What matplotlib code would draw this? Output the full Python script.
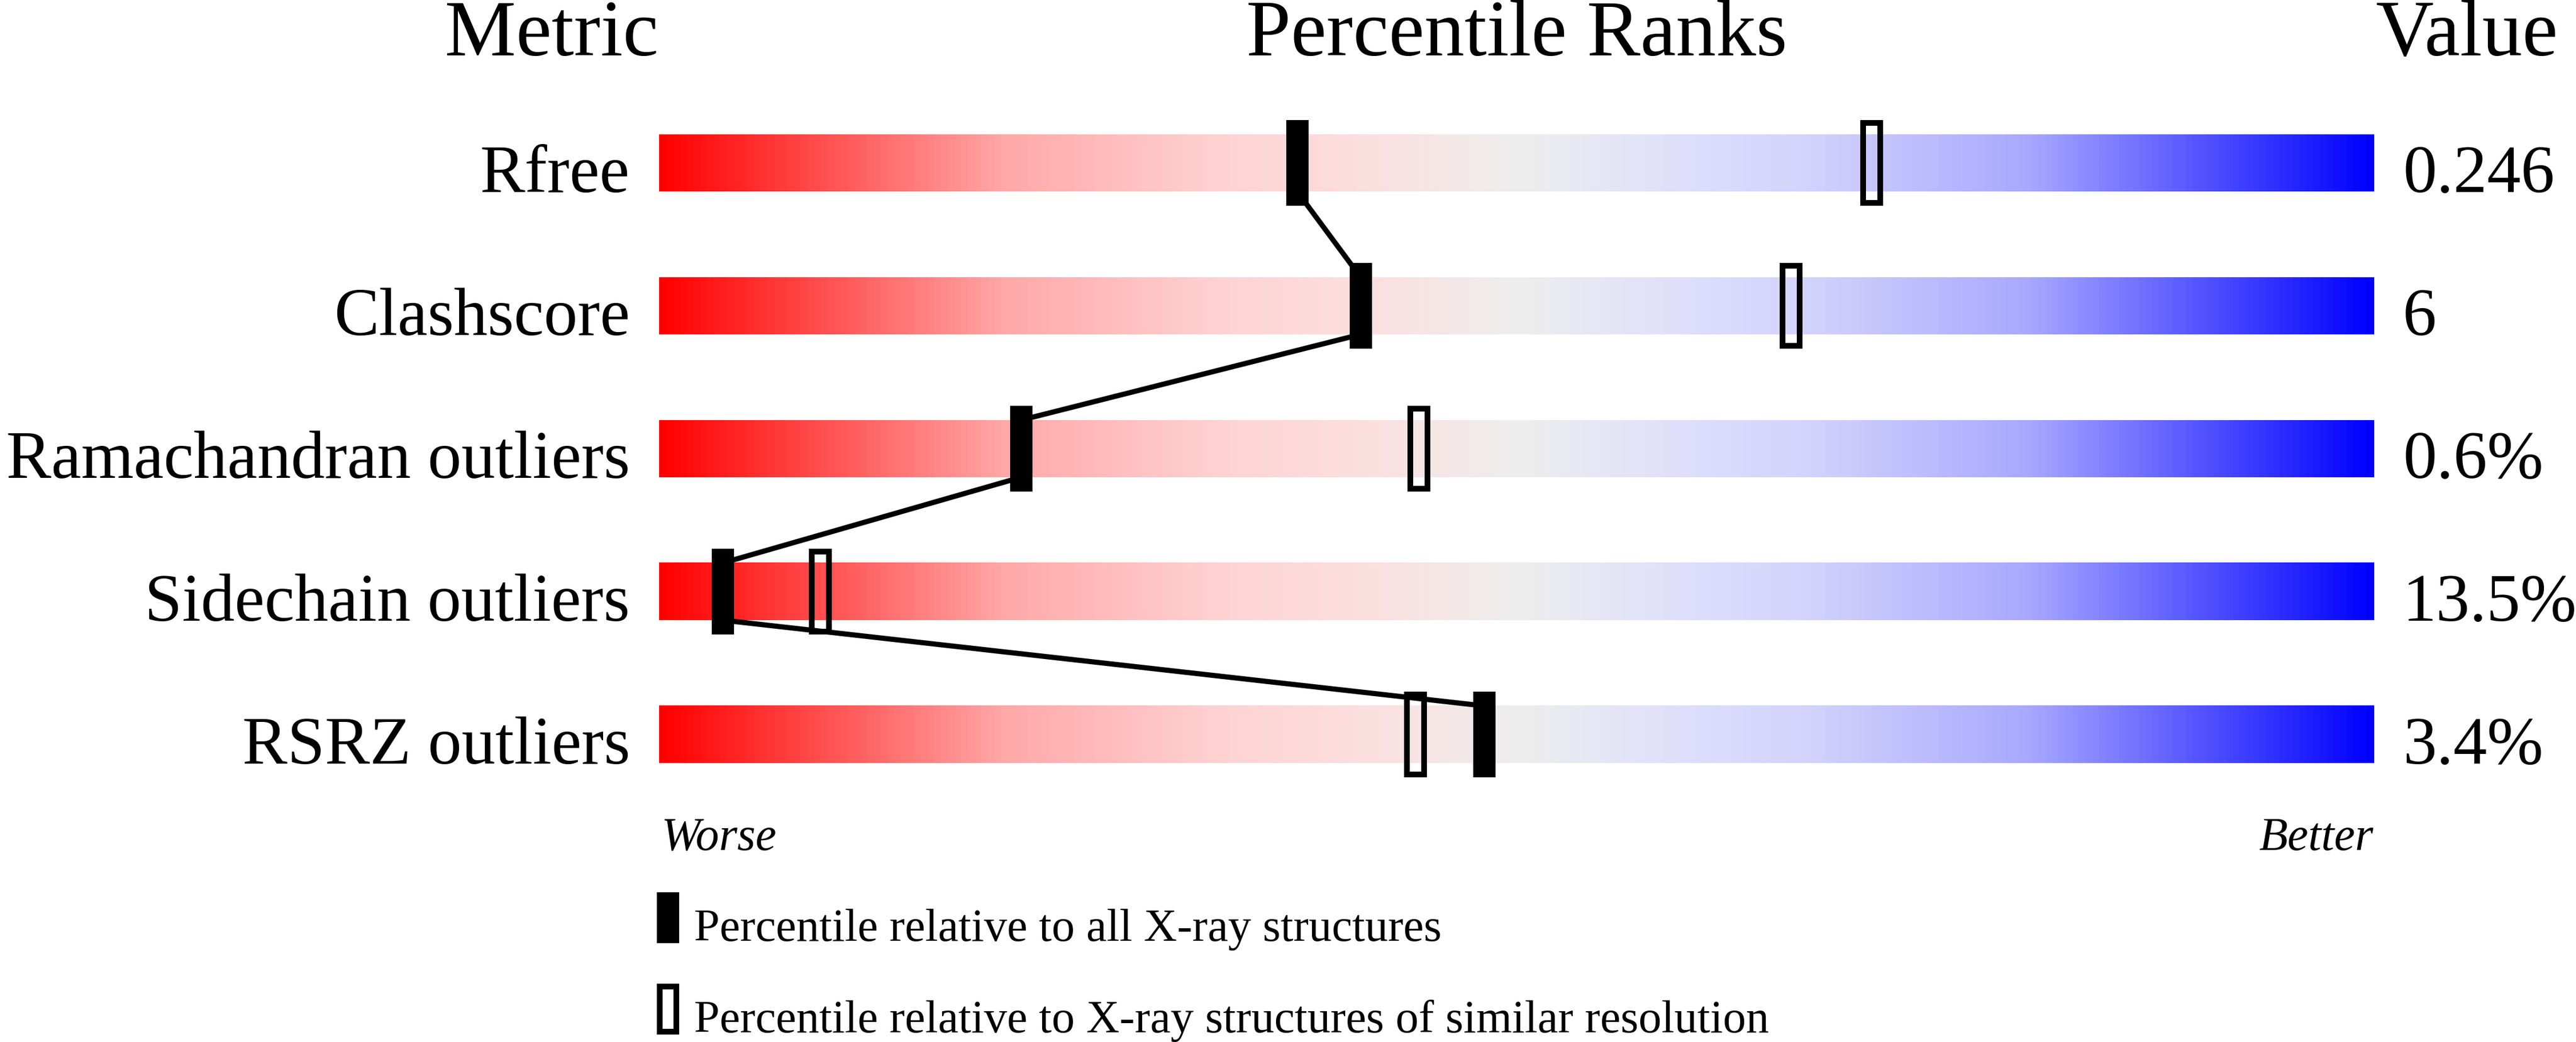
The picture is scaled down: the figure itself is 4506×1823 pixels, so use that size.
import numpy as np
import matplotlib
matplotlib.use("Agg")
import matplotlib.pyplot as plt
from matplotlib.colors import LinearSegmentedColormap
from matplotlib.patches import Rectangle
from matplotlib import transforms

plt.rcParams['font.family'] = ['Liberation Serif', 'DejaVu Serif']

# Data
metrics = ["Rfree", "Clashscore", "Ramachandran outliers", "Sidechain outliers", "RSRZ outliers"]
values = ["0.246", "6", "0.6%", "13.5%", "3.4%"]
pct_all = [37.2, 40.9, 21.1, 3.7, 48.1]        # relative to all X-ray structures
pct_similar = [70.7, 66.0, 44.3, 9.4, 44.1]    # relative to similar resolution

W, H = 4506, 1824
fig = plt.figure(figsize=(W / 100, H / 100), dpi=100)

# overlay axes in pixel units for titles and legend
over = fig.add_axes([0, 0, 1, 1])
over.set_xlim(0, W)
over.set_ylim(H, 0)
over.axis('off')

# main axes covering the slider region
bar_left, bar_w = 1153, 3000
top, bottom = 161, 1411
ax = fig.add_axes([bar_left / W, (H - bottom) / H, bar_w / W, (bottom - top) / H])
ax.axis('off')

cmap = LinearSegmentedColormap.from_list("wr", [
    (0.0, "#FF0000"), (0.2, "#FFA8A8"), (0.33, "#FFD3D3"), (0.42, "#FBE0E0"),
    (0.5, "#EEEEEE"), (0.6, "#DEDEFC"), (0.67, "#D3D3FC"), (0.8, "#A8A8FF"),
    (1.0, "#0000FF")])
grad = np.linspace(0, 1, 1000).reshape(1, -1)

bar_h = 0.4
for i in range(len(metrics)):
    ax.imshow(grad, cmap=cmap, aspect='auto', interpolation='bilinear',
              extent=[0, 100, i + bar_h / 2, i - bar_h / 2], zorder=1)

# open markers (similar resolution)
for i, p in enumerate(pct_similar):
    ax.add_patch(Rectangle((p - 0.5, i - 0.28), 1.0, 0.56, fill=False,
                           edgecolor='black', linewidth=7.2, zorder=2, clip_on=False))

# connecting line between black markers
for i in range(len(pct_all) - 1):
    ax.plot([pct_all[i], pct_all[i + 1]], [i + bar_h / 2, i + 1 - bar_h / 2],
            color='black', linewidth=6.5, solid_capstyle='butt', zorder=3, clip_on=False)

# filled markers (all structures)
for i, p in enumerate(pct_all):
    ax.add_patch(Rectangle((p - 0.65, i - 0.3), 1.3, 0.6, facecolor='black',
                           edgecolor='none', zorder=4, clip_on=False))

ax.set_xlim(0, 100)
ax.set_ylim(len(metrics) - 0.5, -0.5)

# row labels and values
trans = transforms.blended_transform_factory(ax.transAxes, ax.transData)
for i, (m, v) in enumerate(zip(metrics, values)):
    ax.text(-51 / bar_w, i + bar_h / 2, m, transform=trans, ha='right',
            va='baseline', fontsize=85)
    ax.text(1 + 50 / bar_w, i + bar_h / 2, v, transform=trans, ha='left',
            va='baseline', fontsize=85)

# column titles
over.text(1152, 97, "Metric", ha='right', va='baseline', fontsize=101)
over.text(bar_left + bar_w / 2, 97, "Percentile Ranks", ha='center', va='baseline', fontsize=101)
over.text(4155, 97, "Value", ha='left', va='baseline', fontsize=101)

# worse / better
over.text(1157, 1487, "Worse", ha='left', va='baseline', fontsize=59, style='italic')
over.text(4151, 1487, "Better", ha='right', va='baseline', fontsize=59, style='italic')

# legend
over.add_patch(Rectangle((1149, 1562), 39, 89, facecolor='black', edgecolor='none'))
over.add_patch(Rectangle((1154, 1727), 29, 79, fill=False, edgecolor='black', linewidth=7.2))
over.text(1214, 1646, "Percentile relative to all X-ray structures",
          ha='left', va='baseline', fontsize=58)
over.text(1214, 1806, "Percentile relative to X-ray structures of similar resolution",
          ha='left', va='baseline', fontsize=58)

fig.savefig("out.png", dpi=100)
